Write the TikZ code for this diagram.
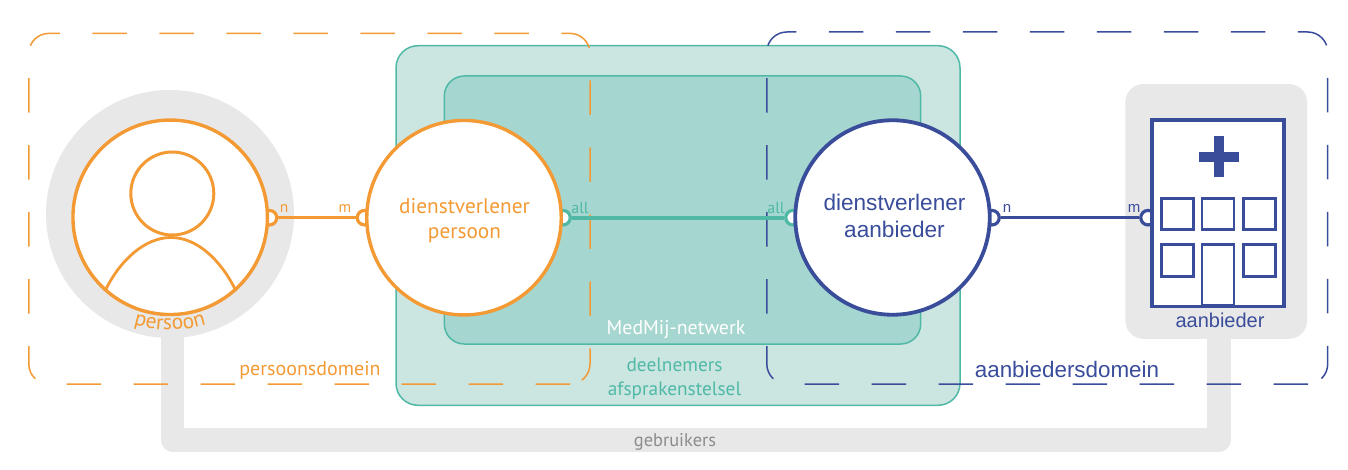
\documentclass[tikz,border=0pt]{standalone}
\usepackage{fontspec}
\setmainfont{PT Sans}
\newfontfamily\arialf{Liberation Sans}
\usetikzlibrary{decorations.text}
\definecolor{oranje}{HTML}{F39A34}
\definecolor{blauw}{HTML}{3A4D9B}
\definecolor{teal1}{HTML}{4FB9A6}
\definecolor{tealA}{HTML}{CBE5E1}
\definecolor{tealB}{HTML}{A5D6CF}
\definecolor{grijs}{HTML}{E8E8E8}
\definecolor{grijstxt}{HTML}{8C8C8C}
\tikzset{
  bigcirc/.style={circle,draw,fill=white,line width=3.4pt,minimum size=194.5pt,inner sep=0pt},
  ringn/.style={circle,draw,fill=white,line width=3.2pt,minimum size=14.5pt,inner sep=0pt},
  dashdomain/.style={line width=1.5pt,rounded corners=20pt,dash pattern=on 34.5pt off 32.5pt},
  conn/.style={line width=3.2pt},
  gebr/.style={draw=grijs,line width=23.4pt,line join=round},
  win/.style={draw=blauw,line width=2.9pt,fill=white,inner sep=0pt,minimum width=32pt,minimum height=31.5pt},
  lab/.style={anchor=base,inner sep=0pt},
  fs/.style={font=\fontsize{#1}{#1}\selectfont},
  twol/.style={inner sep=0pt,align=center,font=\fontsize{#1}{25}\selectfont},
}
\begin{document}
\begin{tikzpicture}[x=1pt,y=-1pt]
\useasboundingbox (0,0) rectangle (1348,470);
% grey backgrounds
\node[circle,fill=grijs,minimum size=248pt,inner sep=0pt] (pb) at (170,214) {};
\node[rectangle,rounded corners=18pt,fill=grijs,minimum width=181.7pt,minimum height=254.7pt,inner sep=0pt] (ab) at (1216.2,211.4) {};
\coordinate (gm) at (1219,440);
\draw[gebr] ([xshift=2.5pt,yshift=4pt]pb.south) |- (gm) -- ([xshift=2.8pt,yshift=4pt]ab.south);
% teal boxes
\node[rectangle,rounded corners=22pt,draw=teal1,fill=tealA,line width=1.5pt,minimum width=564pt,minimum height=359.6pt,inner sep=0pt] (afs) at (678,225.5) {};
\node[rectangle,rounded corners=20pt,draw=teal1,fill=tealB,line width=1.5pt,minimum width=476.4pt,minimum height=268pt,inner sep=0pt] (net) at (682.5,210) {};
% domains
\draw[dashdomain,draw=oranje] (570,384) -- (28.8,384) -- (28.8,33.4) -- (590,33.4) -- (590,384) -- (570,384);
\draw[dashdomain,draw=blauw] (1308,384) -- (766.8,384) -- (766.8,32) -- (1327.7,32) -- (1327.7,384) -- (1308,384);
% rings and connectors
\node[ringn,draw=oranje] (r1) at (269.5,217.7) {};
\node[ringn,draw=oranje] (r2) at (364.5,217.7) {};
\node[ringn,draw=teal1] (r3) at (563,217.7) {};
\node[ringn,draw=teal1] (r4) at (793,217.7) {};
\node[ringn,draw=blauw] (r5) at (992,217.7) {};
\node[ringn,draw=blauw] (r6) at (1148,217.7) {};
\draw[conn,draw=oranje] (r1) -- (r2);
\draw[conn,draw=teal1,line width=3.8pt] (r3) -- (r4);
\draw[conn,draw=blauw] (r5) -- (r6);
% big circles
\node[bigcirc,draw=oranje] (pers) at (170.2,217.3) {};
\node[bigcirc,draw=oranje] (dvp) at (464,217.7) {};
\node[bigcirc,draw=blauw,line width=3.8pt] (dva) at (892.5,217.5) {};
% person icon
\node[circle,draw=oranje,line width=3pt,minimum size=83pt,inner sep=0pt] (head) at (172.3,193.5) {};
\draw[draw=oranje,line width=2.8pt] (105,291) .. controls (120,260) and (145,237.5) .. (171,237.5) .. controls (197,237.5) and (221,260) .. (236,291);
% building
\node[rectangle,draw=blauw,fill=white,line width=3.5pt,minimum width=132.2pt,minimum height=186.5pt,inner sep=0pt] (bld) at (1217.9,213.3) {};
\node[fill=blauw,minimum width=10pt,minimum height=40.7pt,inner sep=0pt] (pv) at (1219.2,156.3) {};
\node[fill=blauw,minimum width=40.3pt,minimum height=10pt,inner sep=0pt] (ph) at (1219.2,156.7) {};
\node[win] (w1) at (1177.3,214) {};
\node[win] (w2) at (1218,214) {};
\node[win] (w3) at (1259.6,214) {};
\node[win] (w4) at (1177.3,260.5) {};
\node[win] (w6) at (1259.6,260.5) {};
\node[win,minimum height=61pt] (door) at (1218,275) {};
% labels
\node[twol=21.3,text=oranje] (t1) at (464.5,220.5) {dienstverlener\\persoon};
\node[twol=22.6,text=blauw,font=\arialf\fontsize{22.6}{27}\selectfont] (t2) at (894.5,216.4) {dienstverlener\\aanbieder};
\node[lab,fs=15.5,text=oranje] (n1) at (284,213) {n};
\node[lab,fs=15.5,text=oranje] (m1) at (345,213) {m};
\node[lab,fs=16,text=teal1] (a1) at (580,214) {all};
\node[lab,fs=16,text=teal1] (a2) at (776,214) {all};
\node[lab,text=blauw,font=\arialf\fontsize{15}{15}\selectfont] (n2) at (1007,212.7) {n};
\node[lab,text=blauw,font=\arialf\fontsize{15}{15}\selectfont] (m2) at (1134,212.7) {m};
\node[lab,fs=19.9,text=white] (t3) at (676,334) {MedMij-netwerk};
\node[twol=19,text=teal1,font=\fontsize{19.3}{24.3}\selectfont] (t4) at (674.5,378.6) {deelnemers\\afsprakenstelsel};
\node[lab,fs=18.4,text=grijstxt] (t5) at (675,446.7) {gebruikers};
\node[lab,fs=20,text=oranje] (t6) at (310,375) {persoonsdomein};
\node[lab,text=blauw,font=\arialf\fontsize{22.4}{22.4}\selectfont] (t7) at (1067,377.7) {aanbiedersdomein};
\node[lab,text=blauw,font=\arialf\fontsize{20}{20}\selectfont] (t8) at (1220,327.7) {aanbieder};
\path[decorate,decoration={text along path,text align=center,text={|\fontsize{21.5}{21.5}\selectfont\color{oranje}|persoon}}] (120,319) .. controls (148,333.5) and (192,333.5) .. (220,319);
\end{tikzpicture}
\end{document}
